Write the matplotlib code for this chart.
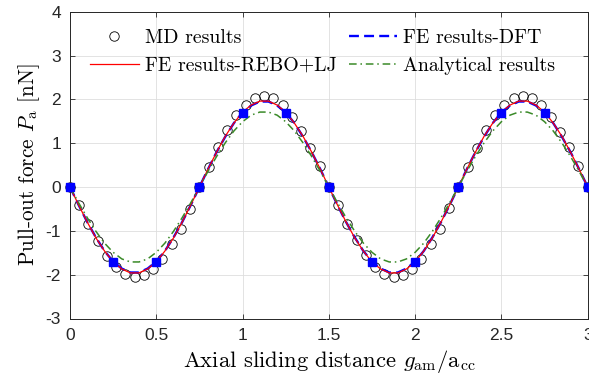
import numpy as np
import matplotlib.pyplot as plt

plt.rcParams['mathtext.fontset'] = 'cm'
plt.rcParams['axes.unicode_minus'] = False

# MD results (circles), one point every 1.5/28
x_md = np.linspace(0, 3, 57)
y_md = [0, -0.41, -0.85, -1.23, -1.57, -1.82, -1.98, -2.05, -2.01, -1.86, -1.64, -1.31, -0.96, -0.50,
        0, 0.45, 0.91, 1.30, 1.65, 1.88, 2.04, 2.08, 2.02, 1.86, 1.60, 1.28, 0.90, 0.48,
        0, -0.42, -0.84, -1.22, -1.56, -1.82, -1.98, -2.05, -2.01, -1.86, -1.64, -1.31, -0.95, -0.49,
        0, 0.45, 0.89, 1.30, 1.64, 1.88, 2.04, 2.08, 2.02, 1.86, 1.60, 1.26, 0.92, 0.48,
        0]

# FE / analytical curves sampled every 0.05
x_fe = np.linspace(0, 3, 61)
y_rebo = [0, -0.41, -0.80, -1.16, -1.46, -1.71, -1.87, -1.96, -1.96, -1.87, -1.71, -1.46, -1.16, -0.80, -0.41,
          0, 0.41, 0.80, 1.16, 1.46, 1.71, 1.87, 1.96, 1.96, 1.87, 1.71, 1.46, 1.16, 0.80, 0.41,
          0, -0.41, -0.80, -1.16, -1.46, -1.71, -1.87, -1.96, -1.96, -1.87, -1.71, -1.46, -1.16, -0.80, -0.41,
          0, 0.41, 0.80, 1.16, 1.46, 1.71, 1.87, 1.96, 1.96, 1.87, 1.71, 1.46, 1.16, 0.80, 0.41,
          0]
y_dft = [0, -0.41, -0.80, -1.15, -1.46, -1.70, -1.86, -1.95, -1.95, -1.86, -1.70, -1.46, -1.15, -0.80, -0.41,
         0, 0.41, 0.80, 1.15, 1.46, 1.70, 1.86, 1.95, 1.95, 1.86, 1.70, 1.46, 1.15, 0.80, 0.41,
         0, -0.41, -0.80, -1.15, -1.46, -1.70, -1.86, -1.95, -1.95, -1.86, -1.70, -1.46, -1.15, -0.80, -0.41,
         0, 0.41, 0.80, 1.15, 1.46, 1.70, 1.86, 1.95, 1.95, 1.86, 1.70, 1.46, 1.15, 0.80, 0.41,
         0]
y_ana = [0, -0.36, -0.70, -1.01, -1.28, -1.49, -1.64, -1.71, -1.71, -1.64, -1.49, -1.28, -1.01, -0.70, -0.36,
         0, 0.36, 0.70, 1.01, 1.28, 1.49, 1.64, 1.71, 1.71, 1.64, 1.49, 1.28, 1.01, 0.70, 0.36,
         0, -0.36, -0.70, -1.01, -1.28, -1.49, -1.64, -1.71, -1.71, -1.64, -1.49, -1.28, -1.01, -0.70, -0.36,
         0, 0.36, 0.70, 1.01, 1.28, 1.49, 1.64, 1.71, 1.71, 1.64, 1.49, 1.28, 1.01, 0.70, 0.36,
         0]

fig = plt.figure(figsize=(5.89, 3.78), dpi=100)
ax = fig.add_axes([70 / 589, 1 - 318.5 / 378, 517.7 / 589, 306.8 / 378])

h_md, = ax.plot(x_md, y_md, 'o', ms=6.8, mfc='none', mec='black', mew=0.6, zorder=2, clip_on=False)
h_dft, = ax.plot(x_fe, y_dft, color='blue', lw=1.7, dashes=(4.2, 2.2), zorder=3)
h_rebo, = ax.plot(x_fe, y_rebo, color='red', lw=0.9, zorder=4)
h_ana, = ax.plot(x_fe, y_ana, color='#3a8a28', lw=1.1, dashes=(5, 2.5, 1, 2.5), zorder=5)
ax.plot(x_fe, y_dft, 's', color='blue', ms=6, markevery=5, zorder=6, clip_on=False)

ax.set_xlim(0, 3)
ax.set_ylim(-3, 4)
ax.set_xticks([0, 0.5, 1, 1.5, 2, 2.5, 3])
ax.set_xticklabels(['0', '0.5', '1', '1.5', '2', '2.5', '3'])
ax.set_yticks(range(-3, 5))
ax.grid(True, color='#dedede', lw=0.6)
ax.set_axisbelow(True)
for s in ax.spines.values():
    s.set_color('#262626')
    s.set_linewidth(0.7)
ax.tick_params(direction='in', length=3.5, width=0.6, color='#262626', top=True, right=True,
               labelsize=12.5, labelcolor='#262626')
ax.tick_params(axis='x', pad=7)
ax.tick_params(axis='y', pad=6.5)
for lab in ax.get_xticklabels() + ax.get_yticklabels():
    lab.set_family('Liberation Sans')

ax.set_xlabel(r'Axial sliding distance $g_\mathrm{am}/\mathrm{a}_\mathrm{cc}$',
              family='cmr10', fontsize=16.3, labelpad=3.5)
ax.set_ylabel(r'Pull-out force $P_\mathrm{a}$ [nN]', family='cmr10', fontsize=15.3, labelpad=2.5)

ax.legend([h_md, h_rebo, h_dft, h_ana],
          ['MD results', 'FE results-REBO+LJ', 'FE results-DFT', 'Analytical results'],
          ncol=2, frameon=False, loc='upper left', bbox_to_anchor=(90 / 589, 1 - 29 / 378),
          bbox_transform=fig.transFigure, borderpad=0, borderaxespad=0,
          handlelength=2.45, handletextpad=0.3, columnspacing=0.62, labelspacing=0.5,
          prop={'family': 'cmr10', 'size': 14.3})

fig.savefig('out.png', dpi=100)
